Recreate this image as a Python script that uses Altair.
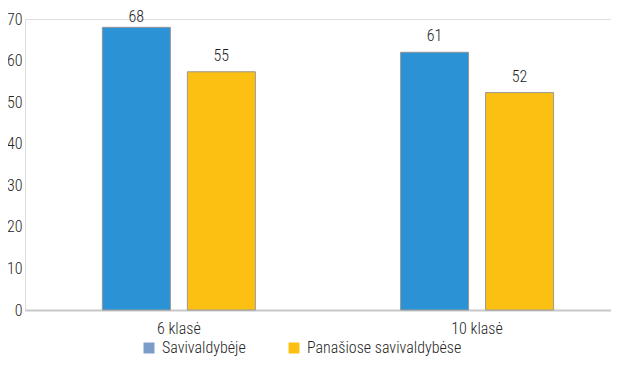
import altair as alt
import pandas as pd

categories = ["6 klasė", "10 klasė"]
series = ["Savivaldybėje", "Panašiose savivaldybėse"]
# bar heights as drawn in the picture
savivaldybeje_bars = [68, 62]
panasiose_bars = [57.3, 52.3]
# value labels printed above the bars
savivaldybeje_labels = ["68", "61"]
panasiose_labels = ["55", "52"]
y_ticks = [0, 10, 20, 30, 40, 50, 60, 70]

rows = []
for i, c in enumerate(categories):
    rows.append({"cat": c, "series": series[0], "value": savivaldybeje_bars[i], "label": savivaldybeje_labels[i]})
    rows.append({"cat": c, "series": series[1], "value": panasiose_bars[i], "label": panasiose_labels[i]})
df = pd.DataFrame(rows)

FONT = "Liberation Sans Narrow, Arial Narrow, Roboto Condensed, Liberation Sans, sans-serif"
TXT = "#262626"
W = 300

x = alt.X(
    "cat:N", sort=categories,
    scale=alt.Scale(paddingInner=0.487, paddingOuter=0.226, align=0.574),
    axis=alt.Axis(title=None, labelAngle=0, ticks=False, domainColor="#c8c8c8", domainWidth=2,
                  labelFontSize=16, labelColor=TXT, labelPadding=10, labelFont=FONT,
                  labelFontWeight=W),
)
xo = alt.XOffset("series:N", sort=series, scale=alt.Scale(paddingInner=0.2, paddingOuter=0))
y = alt.Y(
    "value:Q", scale=alt.Scale(domain=[0, 70], nice=False),
    axis=alt.Axis(title=None, values=y_ticks, grid=False, domain=False, ticks=False,
                  labelPadding=3, labelFontSize=16, labelFont=FONT, labelColor=TXT,
                  labelFontWeight=W),
)

base = alt.Chart(df)

legend_bars = base.mark_bar().encode(
    x=x, xOffset=xo, y=y,
    color=alt.Color(
        "series:N", sort=series,
        scale=alt.Scale(domain=series, range=["#7B9CC9", "#FCC012"]),
        legend=alt.Legend(title=None, orient="none", legendX=116, legendY=321, direction="horizontal",
                          symbolType="square", symbolSize=121, symbolStrokeWidth=0,
                          labelFontSize=16, labelFont=FONT, labelColor=TXT, labelOffset=5,
                          labelFontWeight=W, columnPadding=40, padding=0),
    ),
)

bars = base.mark_bar(stroke="#9a9a9a", strokeWidth=1).encode(
    x=x, xOffset=xo, y=y,
    fill=alt.Fill("series:N", sort=series,
                  scale=alt.Scale(domain=series, range=["#2B92D5", "#FCC012"]), legend=None),
)

labels_low = base.transform_filter("datum.value <= 65").mark_text(
    baseline="bottom", dy=-8, fontSize=16, font=FONT, color="#1e1e1e", fontWeight=W
).encode(x=x, xOffset=xo, y=y, text="label:N")

labels_high = base.transform_filter("datum.value > 65").mark_text(
    baseline="bottom", dy=-2, fontSize=16, font=FONT, color="#1e1e1e", fontWeight=W
).encode(x=x, xOffset=xo, y=y, text="label:N")

chart = alt.layer(legend_bars, bars, labels_low, labels_high).resolve_scale(
    color="independent", fill="independent"
).properties(
    width=586, height=291,
    autosize=alt.AutoSizeParams(type="none"),
    padding={"left": 17, "top": 11, "right": 0, "bottom": 47},
).configure_view(stroke=None).configure(background="white")

chart.save("out.html", embed_options={"renderer": "svg", "actions": False})
